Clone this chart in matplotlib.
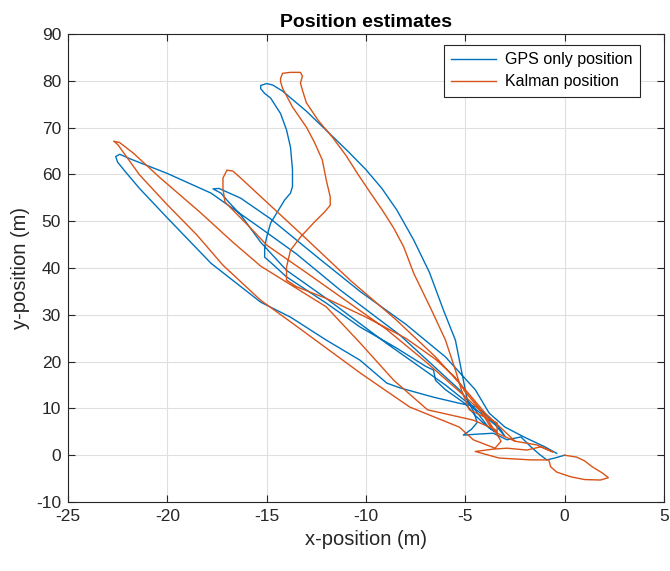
import matplotlib
matplotlib.use("Agg")
import matplotlib.pyplot as plt

plt.rcParams['font.family'] = ['Liberation Sans', 'DejaVu Sans']
plt.rcParams['axes.unicode_minus'] = False

# GPS only position (m), one list per excursion
gps_start_x = [0.0, -0.5, -0.9, -1.3, -1.7, -2.2, -2.9, -3.6, -4.4, -5.1, -4.7, -4.4]
gps_start_y = [0.0, -0.6, -1.0, 0.3, 1.8, 3.9, 3.3, 4.7, 4.5, 4.3, 5.5, 7.0]

gps_top_x = [-4.6, -4.9, -5.2, -5.5, -6.1, -6.8, -7.6, -8.45, -9.2, -10.0, -10.9, -11.9,
             -13.0, -14.2, -14.7, -15.0, -15.3, -15.3, -15.1, -14.8, -14.3, -14.0, -13.8,
             -13.7, -13.7, -13.8, -14.1, -14.5, -14.8, -15.0, -15.1, -15.1, -14.8, -14.0,
             -12.0, -10.3, -8.5, -7.0, -6.6, -6.5, -6.0, -5.0, -4.5, -4.0, -3.5]
gps_top_y = [9.5, 11.8, 18.2, 24.6, 31.0, 39.0, 46.0, 52.4, 57.0, 61.0, 64.9, 69.0,
             73.5, 77.8, 79.1, 79.4, 79.0, 78.3, 77.3, 76.3, 73.0, 69.5, 65.8,
             61.0, 57.4, 56.0, 54.5, 51.7, 49.6, 46.6, 44.5, 42.3, 41.2, 38.1,
             32.5, 27.4, 23.0, 19.0, 18.2, 16.0, 14.0, 11.0, 8.5, 6.5, 5.0]

gps_far_x = [-3.8, -5.3, -8.3, -11.3, -13.5, -15.3, -17.8, -20.0, -21.8, -22.4, -22.6,
             -22.5, -22.1, -21.4, -20.0, -17.8, -15.3, -13.8, -12.0, -10.3, -8.95, -8.3,
             -6.6, -5.3, -4.4, -3.8, -3.3, -3.0]
gps_far_y = [5.8, 14.0, 25.7, 35.3, 43.0, 48.5, 56.0, 60.2, 63.2, 64.3, 63.8,
             62.6, 60.5, 57.0, 50.7, 41.0, 32.7, 29.5, 24.6, 20.3, 15.4, 14.4,
             12.4, 11.1, 10.3, 8.0, 6.0, 4.0]

gps_mid_x = [-3.5, -6.0, -9.0, -12.0, -14.0, -15.3, -16.3, -17.0, -17.3, -17.7, -17.4,
             -16.3, -14.8, -12.5, -10.3, -8.0, -6.0, -4.5, -3.8, -3.0, -2.0, -1.0, -0.4]
gps_mid_y = [6.5, 15.0, 24.0, 33.5, 39.5, 45.5, 51.3, 54.5, 56.0, 56.9, 57.0,
             54.9, 50.5, 42.5, 35.0, 28.0, 21.0, 14.0, 9.0, 6.0, 3.8, 1.8, 0.4]

# Kalman position (m)
kal_start_x = [0.0, 0.6, 1.0, 1.4, 1.9, 2.2, 1.8, 1.0, 0.3, -0.4, -0.7, -0.8, -1.7, -2.5,
               -3.3, -4.5, -3.6, -2.9, -1.9, -1.2, -0.6, -1.4, -2.5, -3.4, -3.4, -4.2]
kal_start_y = [0.0, -0.4, -1.2, -2.5, -3.8, -4.8, -5.3, -5.2, -4.6, -3.6, -2.5, -1.0, -1.0,
               -0.8, -0.6, 0.8, 1.3, 1.5, 1.1, 1.8, 0.7, 2.2, 3.0, 4.7, 6.9, 8.5]

kal_top_x = [-4.8, -5.2, -5.5, -6.0, -6.7, -7.6, -8.1, -8.6, -9.2, -9.8, -10.4, -11.0,
             -11.7, -12.4, -13.0, -13.2, -13.3, -13.2, -13.3, -13.8, -14.2, -14.3, -14.3,
             -14.2, -13.7, -13.0, -12.6, -12.2, -12.0, -11.8, -11.8, -12.1, -12.6, -13.3,
             -13.8, -14.0, -14.0, -13.5, -12.0, -10.0, -8.0, -6.5, -5.6, -5.3, -5.0, -4.3,
             -3.8, -3.4]
kal_top_y = [9.7, 14.0, 18.2, 24.6, 31.0, 38.9, 44.5, 48.5, 52.5, 56.2, 60.0, 64.0,
             68.0, 71.5, 75.3, 78.0, 79.5, 81.0, 81.8, 81.8, 81.6, 80.5, 79.8,
             78.4, 74.4, 70.1, 66.9, 63.1, 58.8, 55.2, 53.4, 51.9, 49.8, 46.6,
             43.8, 40.2, 37.4, 36.0, 33.5, 29.5, 25.0, 20.5, 17.0, 15.5, 13.5, 10.0,
             6.5, 4.7]

kal_far_x = [-3.5, -4.6, -6.9, -8.6, -10.3, -12.0, -15.3, -16.7, -18.35, -20.4, -21.7,
             -22.4, -22.7, -22.5, -21.4, -20.0, -18.5, -17.2, -15.3, -13.7, -10.3, -7.8,
             -5.3, -4.6, -3.5]
kal_far_y = [5.5, 7.5, 9.7, 16.0, 24.0, 31.7, 40.4, 45.5, 51.9, 59.4, 64.5,
             66.8, 67.1, 66.4, 59.9, 53.5, 47.0, 40.6, 33.1, 28.2, 17.6, 10.3,
             6.0, 3.3, 1.5]

kal_mid_x = [-3.2, -4.0, -5.0, -7.0, -9.0, -11.0, -13.0, -15.0, -15.8, -17.1, -17.2,
             -17.2, -17.0, -16.7, -16.3, -14.8, -13.3, -10.8, -8.5, -6.5, -5.0, -4.0,
             -3.0, -2.5]
kal_mid_y = [3.0, 8.5, 12.5, 20.0, 27.0, 33.0, 39.0, 44.9, 48.5, 54.1, 57.0,
             59.2, 60.9, 60.7, 59.2, 53.3, 47.4, 37.4, 29.0, 21.0, 14.0, 9.0,
             5.0, 3.0]

gps_x = gps_start_x + gps_top_x + gps_far_x + gps_mid_x
gps_y = gps_start_y + gps_top_y + gps_far_y + gps_mid_y
kal_x = kal_start_x + kal_top_x + kal_far_x + kal_mid_x
kal_y = kal_start_y + kal_top_y + kal_far_y + kal_mid_y

fig = plt.figure(figsize=(6.7, 5.71), dpi=100)
ax = fig.add_axes([0.1015, 0.1208, 0.8895, 0.8197])

ax.plot(gps_x, gps_y, color='#0072BD', lw=1.0, label='GPS only position')
ax.plot(kal_x, kal_y, color='#D95319', lw=1.0, label='Kalman position')

ax.set_xlim(-25, 5)
ax.set_ylim(-10, 90)
ax.set_xticks(range(-25, 6, 5))
ax.set_yticks(range(-10, 91, 10))
ax.grid(True, color='#DFDFDF', lw=0.8)
ax.set_axisbelow(True)
ax.tick_params(direction='in', top=True, right=True, labelsize=12.5, colors='#262626',
               length=5, pad=5)
for s in ax.spines.values():
    s.set_color('#262626')
    s.set_linewidth(0.8)

ax.set_title('Position estimates', fontsize=14, fontweight='bold', pad=5)
ax.set_xlabel('x-position (m)', fontsize=14.5, color='#262626', labelpad=4)
ax.set_ylabel('y-position (m)', fontsize=14.5, color='#262626', labelpad=4)

leg = ax.legend(loc='upper right', bbox_to_anchor=(0.960, 0.9765), borderaxespad=0,
                fontsize=11.5, fancybox=False, framealpha=1, edgecolor='#262626',
                handlelength=2.8, handletextpad=0.6, labelspacing=0.45, borderpad=0.45)
leg.get_frame().set_linewidth(0.8)

fig.savefig('out.png', dpi=100)
